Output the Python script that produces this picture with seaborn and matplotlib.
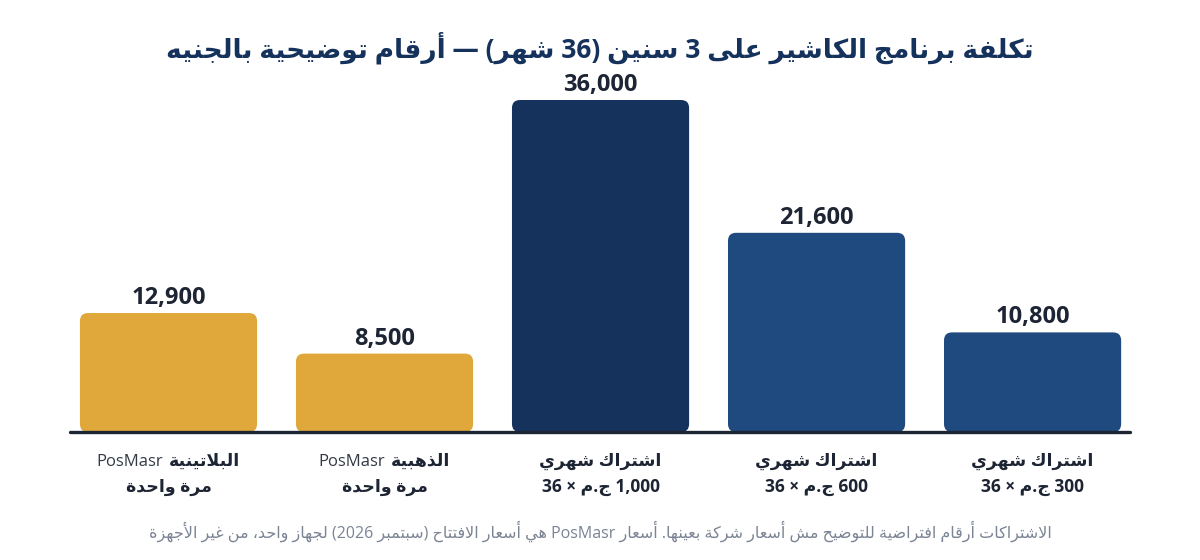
import re
import matplotlib
matplotlib.use("Agg")
import matplotlib.pyplot as plt
import seaborn as sns
import pandas as pd
from matplotlib.patches import FancyBboxPatch
from matplotlib.offsetbox import TextArea, HPacker, AnnotationBbox

# ------------------------------------------------------------
# data
# ------------------------------------------------------------
plan_keys = ["platinum", "gold", "sub_1000", "sub_600", "sub_300"]
plan_brand = ["PosMasr", "PosMasr", "", "", ""]
plan_names = ["البلاتينية", "الذهبية", "اشتراك شهري", "اشتراك شهري", "اشتراك شهري"]
plan_notes = ["مرة واحدة", "مرة واحدة", "1,000 ج.م × 36", "600 ج.م × 36", "300 ج.م × 36"]
costs = [12900, 8500, 36000, 21600, 10800]
bar_colors = ["#E0A83A", "#E0A83A", "#14325C", "#1F4A80", "#1F4A80"]

title = "تكلفة برنامج الكاشير على 3 سنين (36 شهر) — أرقام توضيحية بالجنيه"
footnote = ("الاشتراكات أرقام افتراضية للتوضيح مش أسعار شركة بعينها. "
            "أسعار PosMasr هي أسعار الافتتاح (سبتمبر 2026) لجهاز واحد، من غير الأجهزة")

# ------------------------------------------------------------
# small arabic shaper (matplotlib has no shaping / bidi)
# ------------------------------------------------------------
_table = [(0x0621, 0xFE80, 1), (0x0622, 0xFE81, 2), (0x0623, 0xFE83, 2), (0x0624, 0xFE85, 2),
          (0x0625, 0xFE87, 2), (0x0626, 0xFE89, 4), (0x0627, 0xFE8D, 2), (0x0628, 0xFE8F, 4),
          (0x0629, 0xFE93, 2), (0x062A, 0xFE95, 4), (0x062B, 0xFE99, 4), (0x062C, 0xFE9D, 4),
          (0x062D, 0xFEA1, 4), (0x062E, 0xFEA5, 4), (0x062F, 0xFEA9, 2), (0x0630, 0xFEAB, 2),
          (0x0631, 0xFEAD, 2), (0x0632, 0xFEAF, 2), (0x0633, 0xFEB1, 4), (0x0634, 0xFEB5, 4),
          (0x0635, 0xFEB9, 4), (0x0636, 0xFEBD, 4), (0x0637, 0xFEC1, 4), (0x0638, 0xFEC5, 4),
          (0x0639, 0xFEC9, 4), (0x063A, 0xFECD, 4), (0x0641, 0xFED1, 4), (0x0642, 0xFED5, 4),
          (0x0643, 0xFED9, 4), (0x0644, 0xFEDD, 4), (0x0645, 0xFEE1, 4), (0x0646, 0xFEE5, 4),
          (0x0647, 0xFEE9, 4), (0x0648, 0xFEED, 2), (0x0649, 0xFEEF, 2), (0x064A, 0xFEF1, 4)]
FORMS = {chr(c): (s, n) for c, s, n in _table}
LAM_ALEF = {"\u0622": 0xFEF5, "\u0623": 0xFEF7, "\u0625": 0xFEF9, "\u0627": 0xFEFB}
MIRROR = {"(": ")", ")": "("}


def _jtype(u):
    if u[0] == "LA":
        return "R"
    if u[1] in FORMS:
        return {4: "D", 2: "R", 1: "U"}[FORMS[u[1]][1]]
    return None


def shape(text):
    units, i = [], 0
    while i < len(text):
        c = text[i]
        if c == "\u0644" and i + 1 < len(text) and text[i + 1] in LAM_ALEF:
            units.append(("LA", text[i + 1]))
            i += 2
        else:
            units.append(("C", c))
            i += 1
    out = []
    for k, u in enumerate(units):
        t = _jtype(u)
        if t is None:
            out.append(u[1])
            continue
        tp = _jtype(units[k - 1]) if k > 0 else None
        tn = _jtype(units[k + 1]) if k + 1 < len(units) else None
        jp = tp == "D" and t in ("R", "D")
        jn = t == "D" and tn in ("R", "D")
        if u[0] == "LA":
            out.append(chr(LAM_ALEF[u[1]] + (1 if jp else 0)))
            continue
        start, n = FORMS[u[1]]
        if n == 4:
            idx = 3 if (jp and jn) else 1 if jp else 2 if jn else 0
        elif n == 2:
            idx = 1 if jp else 0
        else:
            idx = 0
        out.append(chr(start + idx))
    return "".join(out)


def ar(text):
    # shape, then lay out right-to-left keeping latin / number runs intact
    s = shape(text)
    runs = re.split(r"([A-Za-z0-9]+(?:[.,][0-9]+)*)", s)
    vis = []
    for r in runs:
        if re.fullmatch(r"[A-Za-z0-9]+(?:[.,][0-9]+)*", r):
            vis.append(r)
        else:
            vis.append("".join(MIRROR.get(ch, ch) for ch in reversed(r)))
    return "".join(reversed(vis))


# ------------------------------------------------------------
# plot
# ------------------------------------------------------------
sns.set_style("white")
plt.rcParams["font.family"] = ["Open Sans", "DejaVu Sans"]

df = pd.DataFrame({"plan": plan_keys, "cost": costs})

fig = plt.figure(figsize=(12, 5.6), dpi=100)
ax = fig.add_axes([70 / 1200, 128 / 560, 1060 / 1200, 352 / 560])

sns.barplot(data=df, x="plan", y="cost", hue="plan", palette=bar_colors,
            order=plan_keys, hue_order=plan_keys, width=0.82, legend=False,
            saturation=1, ax=ax)

ax.set_xlim(-0.456, 4.451)
ax.set_ylim(0, 38170)

# rounded bars: swap each seaborn rectangle for a rounded one
px_x = 1060 / (4.451 + 0.456)     # pixels per x unit
px_y = 352 / 38170                 # pixels per y unit
aspect = px_x / px_y
for p in list(ax.patches):
    x0, y0, w, h = p.get_x(), p.get_y(), p.get_width(), p.get_height()
    rb = FancyBboxPatch((x0, y0), w, h,
                        boxstyle=f"round,pad=0,rounding_size={8 / px_x}",
                        mutation_aspect=aspect,
                        facecolor=p.get_facecolor(), edgecolor="none", zorder=2)
    p.remove()
    ax.add_patch(rb)

ax.axhline(0, color="#1D2433", lw=2.4, zorder=3, clip_on=False)

for i, v in enumerate(costs):
    ax.annotate(f"{v:,}", (i, v), xytext=(0, 6.5), textcoords="offset points",
                ha="center", va="baseline", fontsize=17, fontweight="bold",
                color="#1D2433")

ax.set_xticks([])
ax.set_yticks([])
ax.set_xlabel("")
ax.set_ylabel("")
sns.despine(ax=ax, left=True, bottom=True)

# category labels under the bars
for i in range(len(plan_keys)):
    parts = []
    if plan_brand[i]:
        parts.append(TextArea(plan_brand[i], textprops=dict(fontsize=12, color="#333A45")))
    parts.append(TextArea(ar(plan_names[i]),
                          textprops=dict(fontsize=12.5, fontweight="bold", color="#1D2433")))
    box = HPacker(children=parts, align="baseline", pad=0, sep=4)
    ab = AnnotationBbox(box, (i, 1 - 461 / 560), xycoords=("data", "figure fraction"),
                        frameon=False, box_alignment=(0.5, 0.5), annotation_clip=False)
    ax.add_artist(ab)
    ax.annotate(ar(plan_notes[i]), (i, 1 - 487 / 560), xycoords=("data", "figure fraction"),
                ha="center", va="center", fontsize=12.5, fontweight="bold",
                color="#1D2433", annotation_clip=False)

fig.text(0.5, 1 - 48 / 560, ar(title), ha="center", va="center",
         fontsize=19, fontweight="bold", color="#15325C")
fig.text(0.5, 1 - 531 / 560, ar(footnote), ha="center", va="center",
         fontsize=11.5, color="#7B8494")

fig.savefig("out.png", dpi=100, facecolor="white")
